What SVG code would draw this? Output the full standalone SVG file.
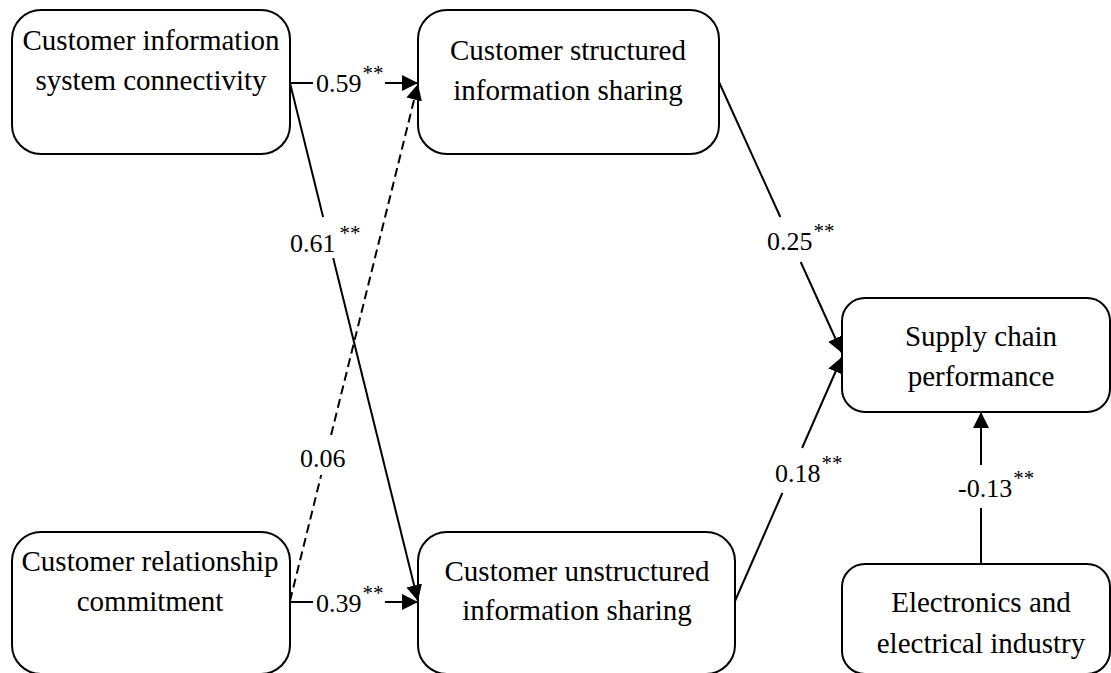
<svg xmlns="http://www.w3.org/2000/svg" width="1111" height="673" viewBox="0 0 1111 673">
  <defs>
    <style>
      text { font-family: "Liberation Serif", "Times New Roman", "DejaVu Serif", serif; fill: #000; }
      .node rect { fill: #fff; stroke: #000; stroke-width: 2; }
      .node text { font-size: 29px; text-anchor: middle; }
      .edge { stroke: #000; stroke-width: 2; fill: none; }
      .dash { stroke-dasharray: 9 5; }
      .lbl { font-size: 26px; }
      .sup { font-size: 21px; }
    </style>
    <marker id="arrow" viewBox="0 0 16 16" refX="16" refY="8" markerWidth="16" markerHeight="16" markerUnits="userSpaceOnUse" orient="auto">
      <path d="M0,0 L16,8 L0,16 Z" fill="#000"/>
    </marker>
  </defs>

  <!-- nodes -->
  <g id="node-connectivity" class="node">
    <rect x="12" y="10" width="278" height="144" rx="29" ry="29"/>
    <text x="151" y="50">Customer information</text>
    <text x="151" y="90">system connectivity</text>
  </g>
  <g id="node-commitment" class="node">
    <rect x="12" y="532" width="278" height="142" rx="29" ry="29"/>
    <text x="150" y="571">Customer relationship</text>
    <text x="150" y="611">commitment</text>
  </g>
  <g id="node-structured" class="node">
    <rect x="418" y="10" width="301" height="144" rx="29" ry="29"/>
    <text x="568" y="60">Customer structured</text>
    <text x="568" y="100">information sharing</text>
  </g>
  <g id="node-unstructured" class="node">
    <rect x="418" y="532" width="317" height="142" rx="29" ry="29"/>
    <text x="577" y="581">Customer unstructured</text>
    <text x="577" y="620">information sharing</text>
  </g>
  <g id="node-performance" class="node">
    <rect x="842" y="298" width="268" height="114" rx="23" ry="23"/>
    <text x="981" y="346">Supply chain</text>
    <text x="981" y="386">performance</text>
  </g>
  <g id="node-industry" class="node">
    <rect x="842" y="564" width="268" height="110" rx="23" ry="23"/>
    <text x="981" y="612">Electronics and</text>
    <text x="981" y="653">electrical industry</text>
  </g>

  <!-- connectors -->
  <g id="connectors">
    <!-- connectivity -> structured -->
    <line class="edge" x1="290" y1="83" x2="313" y2="83"/>
    <line class="edge" x1="385" y1="83" x2="418" y2="83" marker-end="url(#arrow)"/>
    <text class="lbl" x="316" y="92">0.59<tspan class="sup" dx="1" dy="-12">**</tspan></text>

    <!-- commitment -> unstructured -->
    <line class="edge" x1="290" y1="602" x2="313" y2="602"/>
    <line class="edge" x1="385" y1="602" x2="418" y2="602" marker-end="url(#arrow)"/>
    <text class="lbl" x="316" y="612">0.39<tspan class="sup" dx="1" dy="-12">**</tspan></text>

    <!-- connectivity -> unstructured -->
    <line class="edge" x1="290" y1="83" x2="323.1" y2="217"/>
    <line class="edge" x1="333.2" y1="258" x2="418" y2="601" marker-end="url(#arrow)"/>
    <text class="lbl" x="290" y="252">0.61<tspan class="sup" dx="4" dy="-12">**</tspan></text>

    <!-- commitment -> structured (dashed) -->
    <line class="edge dash" x1="290" y1="601" x2="321.2" y2="475"/>
    <line class="edge dash" x1="331.1" y1="435" x2="418" y2="84" marker-end="url(#arrow)"/>
    <text class="lbl" x="300" y="467">0.06</text>

    <!-- structured -> performance -->
    <line class="edge" x1="719" y1="82" x2="780.3" y2="217"/>
    <line class="edge" x1="800.7" y1="262" x2="842" y2="353" marker-end="url(#arrow)"/>
    <text class="lbl" x="767" y="250">0.25<tspan class="sup" dx="1" dy="-12">**</tspan></text>

    <!-- unstructured -> performance -->
    <line class="edge" x1="735" y1="601" x2="782.4" y2="493"/>
    <line class="edge" x1="802.1" y1="448" x2="842" y2="357" marker-end="url(#arrow)"/>
    <text class="lbl" x="775" y="482">0.18<tspan class="sup" dx="1" dy="-12">**</tspan></text>

    <!-- industry -> performance -->
    <line class="edge" x1="981" y1="564" x2="981" y2="508"/>
    <line class="edge" x1="981" y1="465" x2="981" y2="412" marker-end="url(#arrow)"/>
    <text class="lbl" x="958" y="497">-0.13<tspan class="sup" dx="1" dy="-12">**</tspan></text>
  </g>
</svg>
